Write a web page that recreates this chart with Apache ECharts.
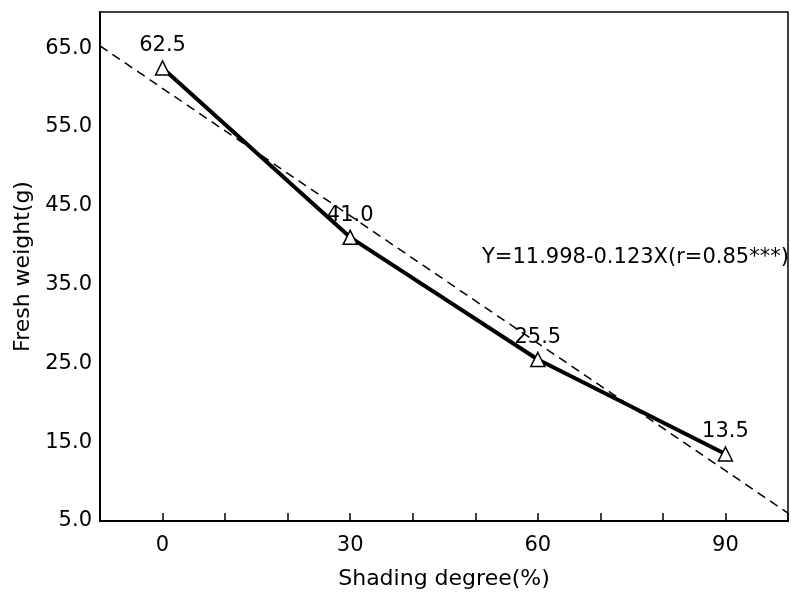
<!DOCTYPE html>
<html lang="en">
<head>
  <meta charset="UTF-8">
  <title>Fresh weight vs shading</title>
  <script src="https://cdn.jsdelivr.net/npm/echarts@6/dist/echarts.min.js"></script>
  <style>
    body { margin: 0; background: #fff; }
    #chart { width: 791px; height: 606px; }
  </style>
</head>
<body>
  <div id="chart"></div>
  <script>
    // 数据
    var shading = [0, 30, 60, 90]
    var freshWeight = [62.5, 41.0, 25.5, 13.5]
    var xTickLabels = [0, 30, 60, 90]
    // 回归虚线的两端
    var fitX = [-10, 100]
    var fitY = [65.3, 6.0]
    var equation = 'Y=11.998-0.123X(r=0.85***)'

    var font = '"DejaVu Sans", Arial, sans-serif'

    var pts = []
    for (var i = 0; i < shading.length; i++) {
      pts.push([shading[i], freshWeight[i]])
    }
    var fitPts = [[fitX[0], fitY[0]], [fitX[1], fitY[1]]]

    var chart = echarts.init(document.getElementById('chart'))
    var option = {
      animation: false,
      grid: {
        left: 100, top: 12, right: 1, bottom: 85,
        show: true, borderColor: '#000', borderWidth: 1.5
      },
      xAxis: {
        type: 'value',
        min: -10, max: 100, interval: 10,
        name: 'Shading degree(%)',
        nameLocation: 'middle',
        nameGap: 47,
        nameTextStyle: { fontFamily: font, fontSize: 22, color: '#000' },
        axisLine: { lineStyle: { color: '#000', width: 2 } },
        axisTick: { inside: true, length: 8, lineStyle: { color: '#000', width: 1.5 } },
        splitLine: { show: false },
        axisLabel: {
          margin: 14,
          fontFamily: font, fontSize: 21, color: '#000',
          formatter: function (v) {
            return xTickLabels.indexOf(v) >= 0 ? String(v) : ''
          }
        }
      },
      yAxis: {
        type: 'value',
        min: 5, max: 69.6, interval: 10,
        name: 'Fresh weight(g)',
        nameLocation: 'middle',
        nameGap: 66,
        nameTextStyle: { fontFamily: font, fontSize: 22, color: '#000' },
        axisLine: { show: true, onZero: false, lineStyle: { color: '#000', width: 2 } },
        axisTick: { show: false },
        splitLine: { show: false },
        axisLabel: {
          margin: 8,
          fontFamily: font, fontSize: 21, color: '#000',
          formatter: function (v) {
            return (Math.round(v - 5) % 10 === 0) ? v.toFixed(1) : ''
          }
        }
      },
      series: [
        {
          type: 'line',
          data: fitPts,
          symbol: 'none',
          lineStyle: { color: '#000', width: 1.5, type: [9, 6] },
          silent: true
        },
        {
          type: 'line',
          data: pts,
          symbol: 'triangle',
          symbolSize: 14,
          lineStyle: { color: '#000', width: 4 },
          itemStyle: { color: '#fff', borderColor: '#000', borderWidth: 1.5 },
          label: {
            show: true, position: 'top', distance: 4,
            fontFamily: font, fontSize: 21, color: '#000',
            formatter: function (p) { return p.value[1].toFixed(1) }
          },
          z: 3
        }
      ],
      graphic: [
        {
          type: 'text',
          left: 482, top: 247,
          style: { text: equation, font: '21px ' + font, fill: '#000' }
        }
      ]
    }
    chart.setOption(option)
  </script>
</body>
</html>
